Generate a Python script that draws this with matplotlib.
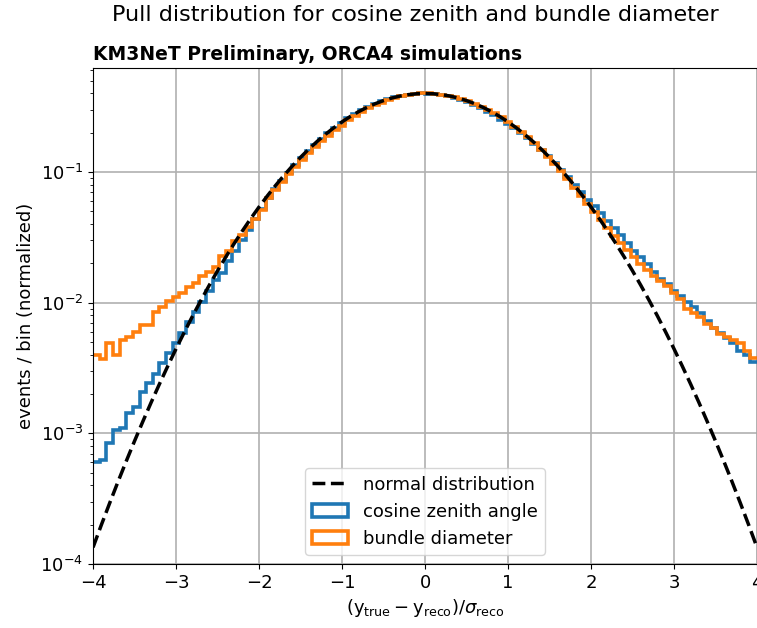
# pull distributions vs. standard normal, log scale
import numpy as np
import matplotlib
matplotlib.use("Agg")
import matplotlib.pyplot as plt
from matplotlib.patches import Patch

plt.rcParams['font.size'] = 13

# bin edges: 100 bins between -4 and 4
edges = np.linspace(-4, 4, 101)

# normalized events per bin (bin by bin, left to right)
cos_zenith = [
    6.0e-4, 6.3e-4, 8.5e-4, 1.07e-3, 1.10e-3, 1.44e-3, 1.58e-3, 2.08e-3, 2.41e-3, 2.85e-3,
    3.43e-3, 4.1e-3, 4.9e-3, 5.9e-3, 7.1e-3, 8.5e-3, 1.02e-2, 1.22e-2, 1.48e-2, 1.70e-2,
    0.0208, 0.0250, 0.0300, 0.0360, 0.0438, 0.0522, 0.0634, 0.0738, 0.0855, 0.0983,
    0.1123, 0.1275, 0.1437, 0.1611, 0.1794, 0.1985, 0.2182, 0.2383, 0.2613, 0.2803,
    0.2989, 0.3166, 0.3332, 0.3485, 0.3621, 0.3739, 0.3840, 0.3915, 0.3965, 0.3990,
    0.3988, 0.3958, 0.3900, 0.3820, 0.3680, 0.3550, 0.3405, 0.3245, 0.3075, 0.2895,
    0.2710, 0.2520, 0.2330, 0.2160, 0.1980, 0.1805, 0.1635, 0.1472, 0.1318, 0.1172,
    0.1036, 0.0910, 0.0793, 0.0700, 0.0615, 0.0545, 0.0482, 0.0425, 0.0372, 0.0328,
    0.0285, 0.0250, 0.0222, 0.0197, 0.0172, 0.0152, 0.0138, 0.0122, 0.0112, 0.0101,
    0.0092, 0.0083, 0.0072, 0.0064, 0.0059, 0.0054, 0.0049, 0.0043, 0.0040, 0.0035,
]
bundle_diam = [
    3.95e-3, 3.7e-3, 4.9e-3, 4.0e-3, 5.15e-3, 5.5e-3, 6.0e-3, 6.7e-3, 6.7e-3, 8.5e-3,
    9.3e-3, 1.03e-2, 0.0110, 0.0118, 0.0131, 0.0141, 0.0160, 0.0173, 0.0187, 0.0226,
    0.0247, 0.0295, 0.0332, 0.0380, 0.0440, 0.0515, 0.0627, 0.0727, 0.0838, 0.0959,
    0.1092, 0.1235, 0.1388, 0.1550, 0.1720, 0.1897, 0.2080, 0.2265, 0.2508, 0.2700,
    0.2885, 0.3064, 0.3238, 0.3395, 0.3567, 0.3702, 0.3810, 0.3902, 0.3958, 0.3990,
    0.3992, 0.3965, 0.3915, 0.3840, 0.3745, 0.3625, 0.3490, 0.3335, 0.3170, 0.2992,
    0.2805, 0.2615, 0.2420, 0.2224, 0.2030, 0.1840, 0.1655, 0.1478, 0.1312, 0.1157,
    0.1013, 0.0881, 0.0758, 0.0655, 0.0570, 0.0495, 0.0430, 0.0372, 0.0325, 0.0288,
    0.0255, 0.0225, 0.0198, 0.0178, 0.0160, 0.0146, 0.0133, 0.0118, 0.0106, 0.0090,
    0.0083, 0.0078, 0.0069, 0.0064, 0.0058, 0.0055, 0.0052, 0.0049, 0.0043, 0.0038,
]

# standard normal density, x = -4 ... 4 in steps of 0.1
norm_x = np.linspace(-4, 4, 81)
norm_y = [
    0.000134, 0.000199, 0.000292, 0.000425, 0.000612, 0.000873, 0.001232, 0.001723, 0.002384, 0.003267,
    0.004432, 0.00595, 0.00792, 0.01042, 0.01358, 0.01753, 0.02239, 0.02833, 0.03547, 0.04398,
    0.05399, 0.06562, 0.07895, 0.09405, 0.11092, 0.12952, 0.14973, 0.17137, 0.19419, 0.21785,
    0.24197, 0.26609, 0.28969, 0.31225, 0.33322, 0.35207, 0.36827, 0.38139, 0.39104, 0.39695,
    0.39894,
    0.39695, 0.39104, 0.38139, 0.36827, 0.35207, 0.33322, 0.31225, 0.28969, 0.26609, 0.24197,
    0.21785, 0.19419, 0.17137, 0.14973, 0.12952, 0.11092, 0.09405, 0.07895, 0.06562, 0.05399,
    0.04398, 0.03547, 0.02833, 0.02239, 0.01753, 0.01358, 0.01042, 0.00792, 0.00595, 0.004432,
    0.003267, 0.002384, 0.001723, 0.001232, 0.000873, 0.000612, 0.000425, 0.000292, 0.000199, 0.000134,
]

fig = plt.figure(figsize=(7.57, 6.28), dpi=100)
ax = fig.add_axes([0.1229, 0.1019, 0.8771, 0.7898])

# step outlines without the drop to the baseline at the ends
ax.stairs(cos_zenith, edges, baseline=None, lw=2.6, color='#1f77b4')
ax.stairs(bundle_diam, edges, baseline=None, lw=2.6, color='#ff7f0e')
l_norm, = ax.plot(norm_x, norm_y, 'k--', lw=2.5, label='normal distribution')

ax.set_yscale('log')
ax.set_xlim(-4, 4)
ax.set_ylim(1e-4, 0.625)
ax.grid(True, which='major', color='#b0b0b0', lw=1.2)
ax.set_axisbelow(True)

ax.set_xlabel(r'$(\mathrm{y_{true}} - \mathrm{y_{reco}})/\sigma_{\mathrm{reco}}$')
ax.set_ylabel('events / bin (normalized)')
ax.set_title('KM3NeT Preliminary, ORCA4 simulations', loc='left',
             fontweight='bold', fontsize=13.5)
fig.text(0.549, 0.976, 'Pull distribution for cosine zenith and bundle diameter',
         ha='center', va='center', fontsize=16)

h_cos = Patch(fill=False, edgecolor='#1f77b4', lw=2.6, label='cosine zenith angle')
h_bun = Patch(fill=False, edgecolor='#ff7f0e', lw=2.6, label='bundle diameter')
ax.legend(handles=[l_norm, h_cos, h_bun], loc='lower center')

fig.savefig('out.png', dpi=100)
